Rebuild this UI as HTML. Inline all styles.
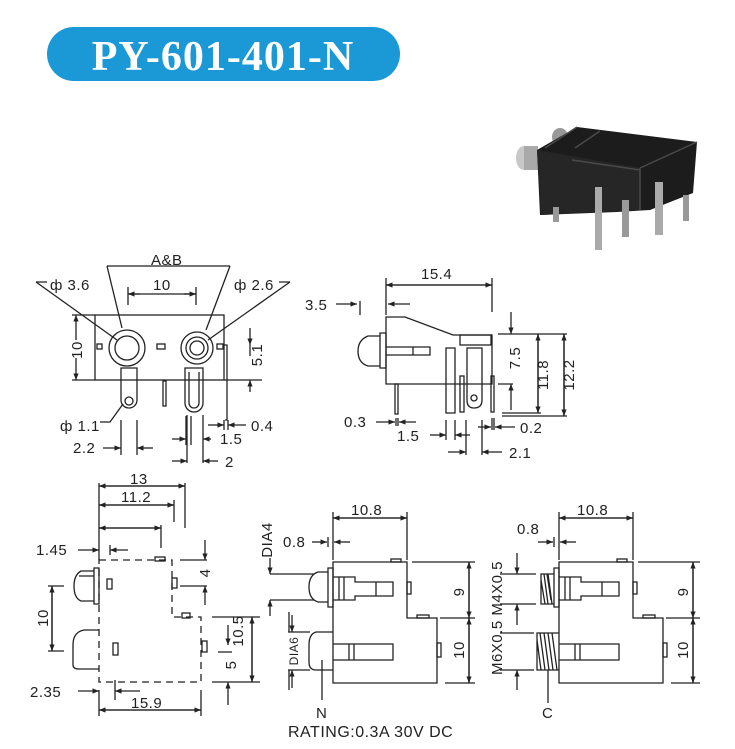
<!DOCTYPE html>
<html><head><meta charset="utf-8"><style>
body{margin:0;background:#fff;width:735px;height:744px;overflow:hidden}
svg text{font-family:"Liberation Sans",sans-serif;font-size:15px;fill:#222;letter-spacing:0.5px}
</style></head><body>
<svg width="735" height="744" viewBox="0 0 735 744" xmlns="http://www.w3.org/2000/svg">
<defs>
<marker id="a" viewBox="0 0 10 10" refX="10" refY="5" markerWidth="7" markerHeight="5" orient="auto"><path d="M0,1 L10,5 L0,9z" fill="#222"/></marker>
</defs>
<!-- title -->
<rect x="47" y="27" width="353" height="54" rx="27" fill="#1b98d6"/>
<text x="223" y="70" text-anchor="middle" style="font-family:'Liberation Serif',serif;font-weight:bold;font-size:42px;fill:#fff;letter-spacing:1px">PY-601-401-N</text>

<!-- photo -->
<g>
<ellipse cx="524" cy="158" rx="8" ry="12" fill="#c8c8c8"/>
<rect x="524" y="146" width="14" height="24" fill="#aaa"/>
<ellipse cx="560" cy="137" rx="8" ry="9" fill="#999"/>
<polygon points="537,150 577,127 697,142 693,193 650,210 617,212 540,215" fill="#1c1c1c"/>
<polygon points="537,150 640,168 640,210 541,215" fill="#262626"/>
<path d="M577,127 L545,148 M640,168 L697,142 M600,131 L575,148 M640,168 L640,210 M572,160 L640,170" stroke="#4a4a4a" stroke-width="1.5" fill="none"/>
<rect x="595" y="187" width="7" height="63" fill="#aaa"/>
<rect x="655" y="182" width="8" height="53" fill="#aaa"/>
<rect x="622" y="200" width="7" height="37" fill="#999"/>
<rect x="683" y="195" width="6" height="26" fill="#999"/>
<rect x="553" y="207" width="6" height="15" fill="#999"/>
</g>

<g fill="none" stroke="#222" stroke-width="1.3">
<!-- ===== top-left front view ===== -->
<rect x="95" y="315" width="129" height="65"/>
<circle cx="127" cy="348" r="18"/><circle cx="127" cy="348" r="12"/>
<circle cx="197" cy="348" r="16"/><circle cx="197" cy="348" r="11"/><circle cx="197" cy="348" r="7"/>
<rect x="97" y="344" width="5" height="5"/><rect x="157" y="344" width="8" height="5"/><rect x="217" y="344" width="6" height="5"/>
<path d="M121,368 V400 A7,7 0 0 0 137,400 V368 Z"/><circle cx="129" cy="401" r="4"/>
<path d="M185,368 V403 A9,9 0 0 0 203,403 V368 Z M189,372 V403 A5,5 0 0 0 199,403 V372"/>
<rect x="163" y="381" width="3" height="25"/>
<path d="M224,345 H227 V420 H225"/>
<path d="M107,266 H230 M107,266 L122,328 M230,266 L206,330 M36,282 H47 M36,282 L117,340 M290,282 H279 M290,282 L208,340"/>
<path d="M128,287 V305 M196,287 V305"/>
<line x1="140" y1="294" x2="128" y2="294" marker-end="url(#a)"/><line x1="184" y1="294" x2="196" y2="294" marker-end="url(#a)"/>
<line x1="128" y1="294" x2="196" y2="294"/>
<path d="M72,315 H95 M72,380 H95"/>
<line x1="76" y1="340" x2="76" y2="315" marker-end="url(#a)"/><line x1="76" y1="358" x2="76" y2="380" marker-end="url(#a)"/>
<path d="M224,380 H262"/>
<line x1="250" y1="328" x2="250" y2="345" marker-end="url(#a)"/><line x1="250" y1="392" x2="250" y2="380" marker-end="url(#a)"/>
<line x1="250" y1="345" x2="250" y2="356"/>
<path d="M123,404 L110,422 H100 M121,420 V455 M137,420 V455 M187,415 V463 M203,415 V463 M186,416 V445 M191,416 V445"/>
<line x1="103" y1="448" x2="121" y2="448" marker-end="url(#a)"/><line x1="153" y1="448" x2="137" y2="448" marker-end="url(#a)"/>
<line x1="172" y1="439" x2="186" y2="439" marker-end="url(#a)"/><line x1="211" y1="439" x2="203" y2="439" marker-end="url(#a)"/>
<line x1="172" y1="461" x2="187" y2="461" marker-end="url(#a)"/><line x1="218" y1="461" x2="203" y2="461" marker-end="url(#a)"/>
<line x1="208" y1="425" x2="224" y2="425" marker-end="url(#a)"/><line x1="246" y1="425" x2="228" y2="425" marker-end="url(#a)"/>
<path d="M224,420 V430 M228,420 V430"/>

<!-- ===== side view ===== -->
<path d="M386,317 H405 L453,335 H492 V384 H386 Z"/>
<path d="M380,333 H386 V368 H380 Z M380,336 H368 Q358,340 358,351 Q358,363 368,366 H380"/>
<path d="M386,347 H430 V355 H386 M413,347 V355"/>
<rect x="460" y="335" width="31" height="10"/>
<path d="M446,348 H455 V413 H446 Z M467,348 H482 V400 Q482,408 474,408 Q467,408 467,400 Z"/><circle cx="474" cy="398" r="3"/>
<rect x="460" y="376" width="4" height="36"/><rect x="491" y="376" width="3" height="36"/>
<rect x="395" y="384" width="3" height="30"/>
<path d="M386,278 V315 M492,278 V312 M360,301 V315"/>
<line x1="386" y1="285" x2="492" y2="285" marker-end="url(#a)"/><line x1="492" y1="285" x2="386" y2="285" marker-end="url(#a)"/>
<line x1="336" y1="304" x2="357" y2="304" marker-end="url(#a)"/><line x1="410" y1="304" x2="388" y2="304" marker-end="url(#a)"/>
<path d="M498,334 H567 M498,384 H513 M502,413 H541 M502,416 H567"/>
<line x1="511" y1="312" x2="511" y2="334" marker-end="url(#a)"/><line x1="511" y1="410" x2="511" y2="384" marker-end="url(#a)"/>
<line x1="538" y1="334" x2="538" y2="413" marker-end="url(#a)"/><line x1="538" y1="413" x2="538" y2="334" marker-end="url(#a)"/>
<line x1="564" y1="334" x2="564" y2="416" marker-end="url(#a)"/><line x1="564" y1="416" x2="564" y2="334" marker-end="url(#a)"/>
<path d="M396,418 V426 M398,418 V426 M492,418 V430 M494,418 V430 M446,420 V440 M455,420 V440 M466,420 V455 M482,420 V455"/>
<line x1="376" y1="422" x2="395" y2="422" marker-end="url(#a)"/><line x1="416" y1="422" x2="399" y2="422" marker-end="url(#a)"/>
<line x1="430" y1="435" x2="446" y2="435" marker-end="url(#a)"/><line x1="470" y1="435" x2="455" y2="435" marker-end="url(#a)"/>
<line x1="448" y1="452" x2="466" y2="452" marker-end="url(#a)"/><line x1="502" y1="452" x2="482" y2="452" marker-end="url(#a)"/>
<line x1="478" y1="427" x2="491" y2="427" marker-end="url(#a)"/><line x1="515" y1="427" x2="495" y2="427" marker-end="url(#a)"/>

<!-- ===== bottom-left view ===== -->
<g stroke-dasharray="7,5">
<path d="M99,560 H172 V617 H201 V682 H99 Z"/>
</g>
<path d="M94,568 H99 V604 H94 Z M94,571 H81 Q74,575 74,586 Q74,598 81,601 H94 M79,576 H94"/>
<path d="M99,630 H84 Q73,632 73,645 V665 Q73,669 79,669 H99"/>
<rect x="107" y="579" width="5" height="10"/><rect x="113" y="643" width="5" height="12"/><rect x="172" y="578" width="5" height="10"/><rect x="182" y="613" width="8" height="5"/><rect x="202" y="641" width="5" height="11"/><rect x="155" y="557" width="10" height="4"/>
<path d="M99,483 V560 M185,483 V528 M174,500 V522 M161,525 V548 M110,545 V555 M99,690 V716 M115,680 V700 M201,690 V716"/>
<line x1="99" y1="486" x2="185" y2="486" marker-end="url(#a)"/><line x1="185" y1="486" x2="99" y2="486" marker-end="url(#a)"/>
<line x1="99" y1="505" x2="174" y2="505" marker-end="url(#a)"/><line x1="174" y1="505" x2="99" y2="505" marker-end="url(#a)"/>
<line x1="161" y1="528" x2="99" y2="528" marker-end="url(#a)"/><line x1="99" y1="528" x2="161" y2="528" marker-end="url(#a)"/>
<line x1="78" y1="550" x2="99" y2="550" marker-end="url(#a)"/><line x1="128" y1="550" x2="110" y2="550" marker-end="url(#a)"/>
<line x1="78" y1="691" x2="99" y2="691" marker-end="url(#a)"/><line x1="140" y1="691" x2="115" y2="691" marker-end="url(#a)"/>
<line x1="99" y1="710" x2="201" y2="710" marker-end="url(#a)"/><line x1="201" y1="710" x2="99" y2="710" marker-end="url(#a)"/>
<path d="M48,586 H64 M48,651 H64 M180,560 H207 M180,586 H207 M212,617 H260 M212,682 H260 M218,652 H232"/>
<line x1="52" y1="586" x2="52" y2="651" marker-end="url(#a)"/><line x1="52" y1="651" x2="52" y2="586" marker-end="url(#a)"/>
<line x1="205" y1="540" x2="205" y2="560" marker-end="url(#a)"/><line x1="205" y1="605" x2="205" y2="586" marker-end="url(#a)"/>
<line x1="252" y1="617" x2="252" y2="682" marker-end="url(#a)"/><line x1="252" y1="682" x2="252" y2="617" marker-end="url(#a)"/>
<line x1="228" y1="625" x2="228" y2="645" marker-end="url(#a)"/><line x1="228" y1="705" x2="228" y2="682" marker-end="url(#a)"/>

<!-- ===== bottom-middle view (N) ===== -->
<g id="bv">
<path d="M333,562 H407 V618 H437 V683 H333 Z"/>
<rect x="391" y="559" width="10" height="3"/><rect x="417" y="615" width="12" height="3"/>
<rect x="407" y="582" width="4" height="12"/><rect x="437" y="643" width="4" height="14"/>
<path d="M328,568 H333 V607 H328 Z"/>
<path d="M333,577 H355 V582 H393 V596 H355 V600 H333 M339,577 V600 M344,577 V600 M376,582 V596"/>
<path d="M333,644 H393 V660 H333 M349,644 V660 M354,644 V660"/>
</g>
<path d="M328,572 H318 Q309,575 309,587 Q309,599 318,602 H328"/>
<path d="M333,632 H316 Q309,634 309,645 V662 Q309,670 316,670 H333 M322,660 V700"/>
<path d="M333,512 V560 M407,512 V560 M328,537 V547 M270,574 H314 M270,600 H314 M289,612 V632 M289,670 V690 M288,632 H310 M288,670 H310 M412,562 H475 M440,618 H475 M445,683 H475"/>
<line x1="333" y1="518" x2="407" y2="518" marker-end="url(#a)"/><line x1="407" y1="518" x2="333" y2="518" marker-end="url(#a)"/>
<line x1="312" y1="542" x2="327" y2="542" marker-end="url(#a)"/><line x1="350" y1="542" x2="334" y2="542" marker-end="url(#a)"/>
<line x1="270" y1="558" x2="270" y2="574" marker-end="url(#a)"/><line x1="270" y1="616" x2="270" y2="600" marker-end="url(#a)"/>
<line x1="292" y1="615" x2="292" y2="632" marker-end="url(#a)"/><line x1="292" y1="688" x2="292" y2="670" marker-end="url(#a)"/>
<line x1="469" y1="562" x2="469" y2="618" marker-end="url(#a)"/><line x1="469" y1="618" x2="469" y2="562" marker-end="url(#a)"/>
<line x1="469" y1="618" x2="469" y2="683" marker-end="url(#a)"/><line x1="469" y1="683" x2="469" y2="618" marker-end="url(#a)"/>

<!-- ===== bottom-right view (C) ===== -->
<use href="#bv" x="226"/>
<path d="M554,574 H541 V604 H554 M544,574 L548,604 M548,574 L552,604 M541,580 L545,604 M547,574 L551,600"/>
<path d="M559,633 H537 V670 H559 M540,633 L545,670 M544,633 L549,670 M548,633 L553,670 M552,633 L557,670 M537,640 L541,670"/>
<path d="M548,670 V703 M559,512 V560 M633,512 V560 M554,537 V547 M500,574 H536 M500,604 H536 M500,633 H534 M500,670 H534 M638,562 H700 M666,618 H700 M671,683 H700"/>
<line x1="559" y1="518" x2="633" y2="518" marker-end="url(#a)"/><line x1="633" y1="518" x2="559" y2="518" marker-end="url(#a)"/>
<line x1="538" y1="542" x2="553" y2="542" marker-end="url(#a)"/><line x1="576" y1="542" x2="560" y2="542" marker-end="url(#a)"/>
<line x1="517" y1="553" x2="517" y2="574" marker-end="url(#a)"/><line x1="517" y1="625" x2="517" y2="604" marker-end="url(#a)"/>
<line x1="517" y1="690" x2="517" y2="670" marker-end="url(#a)"/>
<line x1="693" y1="562" x2="693" y2="618" marker-end="url(#a)"/><line x1="693" y1="618" x2="693" y2="562" marker-end="url(#a)"/>
<line x1="693" y1="618" x2="693" y2="683" marker-end="url(#a)"/><line x1="693" y1="683" x2="693" y2="618" marker-end="url(#a)"/>
</g>

<!-- text labels -->
<text x="151" y="265">A&amp;B</text>
<text x="50" y="290">ф 3.6</text>
<text x="234" y="290">ф 2.6</text>
<text x="153" y="290">10</text>
<text x="82" y="350" transform="rotate(-90 82 350)" text-anchor="middle">10</text>
<text x="262" y="355" transform="rotate(-90 262 355)" text-anchor="middle">5.1</text>
<text x="60" y="431">ф 1.1</text>
<text x="73" y="453">2.2</text>
<text x="220" y="444">1.5</text>
<text x="251" y="431">0.4</text>
<text x="225" y="467">2</text>
<text x="421" y="279">15.4</text>
<text x="305" y="310">3.5</text>
<text x="520" y="358" transform="rotate(-90 520 358)" text-anchor="middle">7.5</text>
<text x="548" y="375" transform="rotate(-90 548 375)" text-anchor="middle">11.8</text>
<text x="574" y="375" transform="rotate(-90 574 375)" text-anchor="middle">12.2</text>
<text x="344" y="427">0.3</text>
<text x="397" y="441">1.5</text>
<text x="520" y="433">0.2</text>
<text x="509" y="458">2.1</text>
<text x="130" y="484">13</text>
<text x="121" y="502">11.2</text>
<text x="36" y="555">1.45</text>
<text x="48" y="618" transform="rotate(-90 48 618)" text-anchor="middle">10</text>
<text x="210" y="573" transform="rotate(-90 210 573)" text-anchor="middle">4</text>
<text x="243" y="631" transform="rotate(-90 243 631)" text-anchor="middle">10.5</text>
<text x="236" y="665" transform="rotate(-90 236 665)" text-anchor="middle">5</text>
<text x="30" y="697">2.35</text>
<text x="131" y="708">15.9</text>
<text x="351" y="515">10.8</text>
<text x="283" y="547">0.8</text>
<text x="272" y="540" transform="rotate(-90 272 540)" text-anchor="middle">DIA4</text>
<text x="298" y="651" transform="rotate(-90 298 651)" text-anchor="middle" style="font-size:12px">DIA6</text>
<text x="464" y="592" transform="rotate(-90 464 592)" text-anchor="middle">9</text>
<text x="464" y="650" transform="rotate(-90 464 650)" text-anchor="middle">10</text>
<text x="316" y="718">N</text>
<text x="288" y="737" style="font-size:16px">RATING:0.3A 30V DC</text>
<text x="577" y="515">10.8</text>
<text x="517" y="534">0.8</text>
<text x="502" y="618" transform="rotate(-90 502 618)" text-anchor="middle">M6X0.5 M4X0.5</text>
<text x="688" y="592" transform="rotate(-90 688 592)" text-anchor="middle">9</text>
<text x="688" y="650" transform="rotate(-90 688 650)" text-anchor="middle">10</text>
<text x="542" y="718">C</text>
</svg>
</body></html>
